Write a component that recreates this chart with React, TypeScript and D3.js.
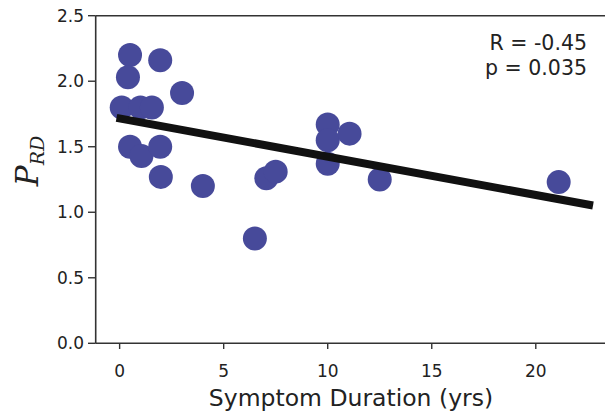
import React from "react";
import * as d3 from "d3";

const durations = [0.1, 0.5, 0.4, 1.0, 1.55, 0.5, 1.05, 1.95, 1.95, 1.98, 3.0, 4.0, 6.5, 7.05, 7.5, 10.0, 10.0, 10.0, 11.05, 12.5, 21.1];
const prd = [1.80, 2.20, 2.03, 1.80, 1.80, 1.50, 1.43, 2.16, 1.50, 1.27, 1.91, 1.20, 0.80, 1.26, 1.31, 1.67, 1.55, 1.37, 1.60, 1.25, 1.23];
const fitX = [-0.15, 22.75];
const fitIntercept = 1.716;
const fitSlope = -0.0292;
const xTicks = [0, 5, 10, 15, 20];
const yTicks = [0.0, 0.5, 1.0, 1.5, 2.0, 2.5];
const statsText = ["R = -0.45", "p = 0.035"];

export default function App() {
  const W = 605, H = 413;
  const x = d3.scaleLinear().domain([-1.15, 23.35]).range([95.7, 605.5]);
  const y = d3.scaleLinear().domain([0, 2.5]).range([343.3, 15.7]);
  const line = d3.line<number>().x(d => x(d)).y(d => y(fitIntercept + fitSlope * d));
  const axisColor = "#333";
  const font = "DejaVu Sans, sans-serif";
  return (
    <svg width={W} height={H} style={{ position: "absolute", left: 0, top: 0, background: "#fff" }}>
      {durations.map((d, i) => (
        <circle key={i} cx={x(d)} cy={y(prd[i])} r={12} fill="#474a9a" />
      ))}
      <path d={line(fitX) || ""} stroke="#111" strokeWidth={8} fill="none" />
      <line x1={95.7} x2={95.7} y1={15.7} y2={343.3} stroke={axisColor} strokeWidth={1.6} />
      <line x1={95.7} x2={605} y1={343.3} y2={343.3} stroke={axisColor} strokeWidth={1.6} />
      <line x1={95.7} x2={605} y1={15.7} y2={15.7} stroke={axisColor} strokeWidth={1.6} />
      {xTicks.map(t => (
        <g key={t}>
          <line x1={x(t)} x2={x(t)} y1={343.3} y2={349} stroke={axisColor} strokeWidth={1.4} />
          <text x={x(t)} y={376.5} textAnchor="middle" fontFamily={font} fontSize={17} fill="#222">{t}</text>
        </g>
      ))}
      {yTicks.map(t => (
        <g key={t}>
          <line x1={88} x2={95.7} y1={y(t)} y2={y(t)} stroke={axisColor} strokeWidth={1.4} />
          <text x={84} y={y(t) + 6} textAnchor="end" fontFamily={font} fontSize={17} fill="#222">{t.toFixed(1)}</text>
        </g>
      ))}
      <text x={351} y={406} textAnchor="middle" fontFamily={font} fontSize={23.5} fill="#222">Symptom Duration (yrs)</text>
      <g transform="translate(38,161) rotate(-90)">
        <text textAnchor="middle" fontFamily="DejaVu Serif, serif" fontStyle="italic" fill="#222">
          <tspan fontSize={31}>P</tspan>
          <tspan fontSize={19} dy={6}>RD</tspan>
        </text>
      </g>
      {statsText.map((s, i) => (
        <text key={i} x={587} y={50 + i * 25} textAnchor="end" fontFamily={font} fontSize={20.5} fill="#222">{s}</text>
      ))}
    </svg>
  );
}
